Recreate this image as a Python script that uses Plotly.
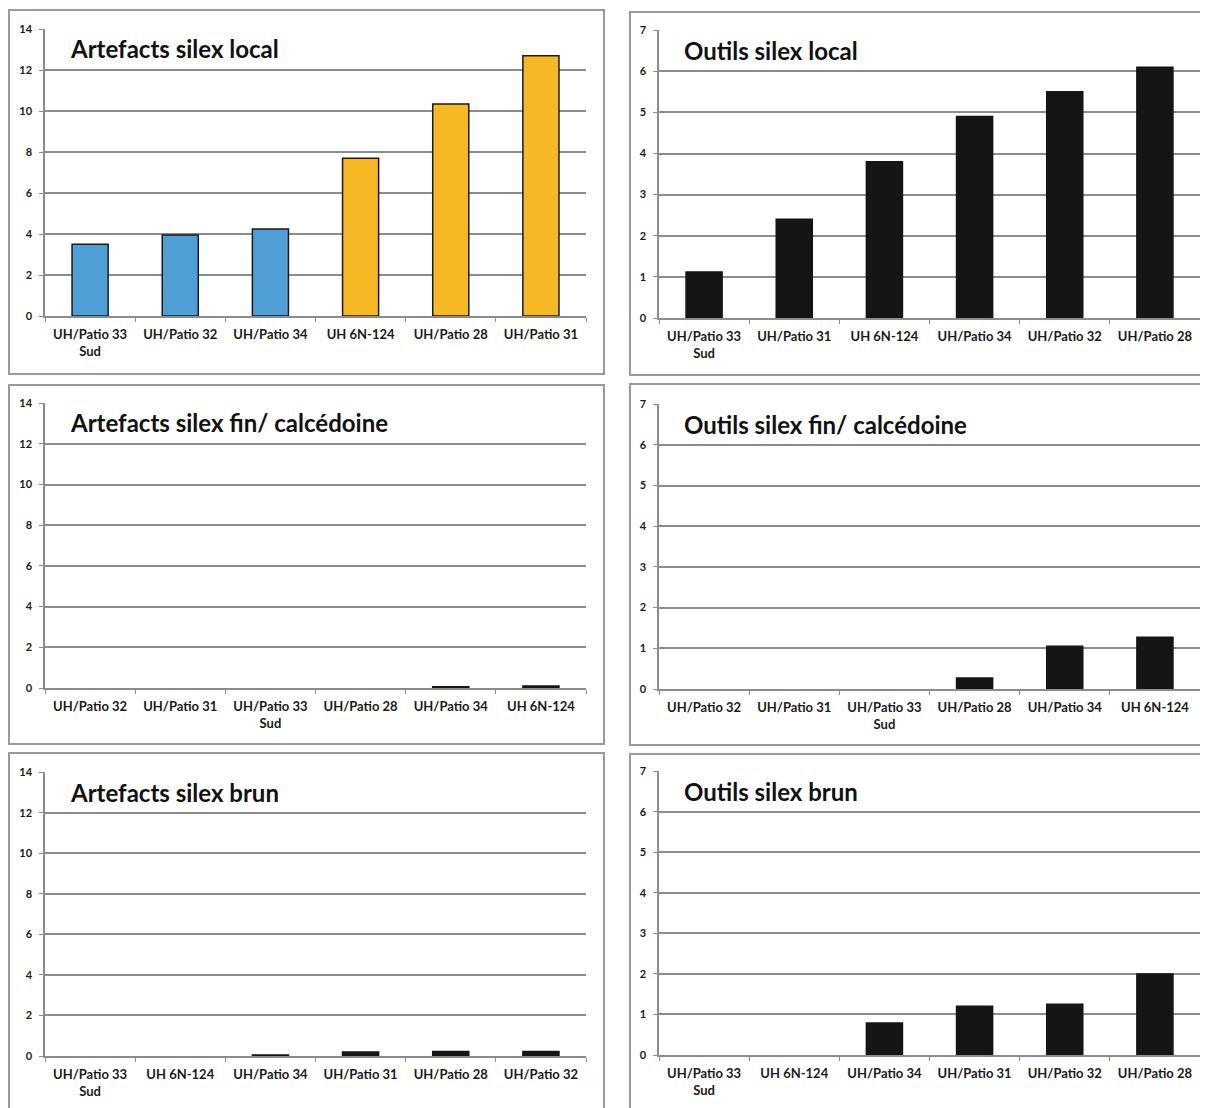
import plotly.graph_objects as go

# ---------------- data ----------------
titles = [
    "Artefacts silex local",
    "Outils silex local",
    "Artefacts silex fin/ calcédoine",
    "Outils silex fin/ calcédoine",
    "Artefacts silex brun",
    "Outils silex brun",
]

cats_art_local = ["UH/Patio 33<br>Sud", "UH/Patio 32", "UH/Patio 34", "UH 6N-124", "UH/Patio 28", "UH/Patio 31"]
vals_art_local = [3.5, 3.95, 4.25, 7.7, 10.35, 12.7]

cats_out_local = ["UH/Patio 33<br>Sud", "UH/Patio 31", "UH 6N-124", "UH/Patio 34", "UH/Patio 32", "UH/Patio 28"]
vals_out_local = [1.12, 2.4, 3.8, 4.9, 5.5, 6.1]

cats_art_fin = ["UH/Patio 32", "UH/Patio 31", "UH/Patio 33<br>Sud", "UH/Patio 28", "UH/Patio 34", "UH 6N-124"]
vals_art_fin = [0, 0, 0, 0, 0.06, 0.1]

cats_out_fin = ["UH/Patio 32", "UH/Patio 31", "UH/Patio 33<br>Sud", "UH/Patio 28", "UH/Patio 34", "UH 6N-124"]
vals_out_fin = [0, 0, 0, 0.27, 1.05, 1.27]

cats_art_brun = ["UH/Patio 33<br>Sud", "UH 6N-124", "UH/Patio 34", "UH/Patio 31", "UH/Patio 28", "UH/Patio 32"]
vals_art_brun = [0, 0, 0.05, 0.2, 0.22, 0.22]

cats_out_brun = ["UH/Patio 33<br>Sud", "UH 6N-124", "UH/Patio 34", "UH/Patio 31", "UH/Patio 32", "UH/Patio 28"]
vals_out_brun = [0, 0, 0.79, 1.2, 1.25, 2.0]

y_max_art = 14
y_max_out = 7

# ---------------- styling ----------------
OFF = 8            # page body margin of the html page
W, H = 1200, 1100  # figure size so that figure + body margin fills the window
BLUE = "#4f9fd6"
ORANGE = "#f7b826"
BLACK = "#151515"
GRID = "#8c8c8c"
BORDER = "#9a9a9a"
FONT = "Lato"

art_local_colors = [BLUE, BLUE, BLUE, ORANGE, ORANGE, ORANGE]

panels = [
    (cats_art_local, vals_art_local, art_local_colors, "#1a1a1a", y_max_art, 2),
    (cats_out_local, vals_out_local, BLACK, BLACK, y_max_out, 1),
    (cats_art_fin, vals_art_fin, BLACK, BLACK, y_max_art, 2),
    (cats_out_fin, vals_out_fin, BLACK, BLACK, y_max_out, 1),
    (cats_art_brun, vals_art_brun, BLACK, BLACK, y_max_art, 2),
    (cats_out_brun, vals_out_brun, BLACK, BLACK, y_max_out, 1),
]

# window-pixel geometry of plot areas (left, right, top, bottom)
plot_px = [
    (45, 586, 29, 316),
    (659, 1200, 30, 318),
    (45, 586, 403, 688),
    (659, 1200, 404, 689),
    (45, 586, 772, 1056),
    (659, 1200, 771, 1055),
]
# window-pixel geometry of panel frames
frame_px = [
    (9, 604, 10, 374),
    (630, 1230, 12, 375),
    (9, 604, 385, 744),
    (630, 1230, 384, 745),
    (9, 604, 753, 1130),
    (630, 1230, 754, 1130),
]


def px_x(v):
    return (v - OFF) / W


def px_y(v):
    return 1 - (v - OFF) / H


fig = go.Figure()
shapes = []
annotations = []

for i, (cats, vals, color, line_color, ymax, dtick) in enumerate(panels):
    n = i + 1
    xa = "x" if n == 1 else f"x{n}"
    ya = "y" if n == 1 else f"y{n}"
    line_widths = [0 if v == 0 else 1.5 for v in vals]
    fig.add_trace(go.Bar(
        x=cats, y=vals, xaxis=xa, yaxis=ya,
        marker=dict(color=color, line=dict(color=line_color, width=line_widths)),
        width=0.4, showlegend=False, hoverinfo="x+y",
    ))
    l, r, t, b = plot_px[i]
    xkey = "xaxis" if n == 1 else f"xaxis{n}"
    ykey = "yaxis" if n == 1 else f"yaxis{n}"
    fig.update_layout({
        xkey: dict(
            domain=[px_x(l), px_x(r)], anchor=ya, type="category",
            showline=True, linecolor=GRID, linewidth=1.5,
            ticks="outside", tickson="boundaries", ticklen=4, tickcolor=GRID,
            tickfont=dict(family=FONT, size=13, color="#1a1a1a", weight="bold"),
            ticklabelstandoff=6,
            showgrid=False, fixedrange=True, tickangle=0, automargin=False,
        ),
        ykey: dict(
            domain=[px_y(b), px_y(t)], anchor=xa, range=[0, ymax * 1.0005], dtick=dtick,
            showline=True, linecolor=GRID, linewidth=1.5,
            ticks="outside", ticklen=4, tickcolor=GRID,
            showgrid=True, gridcolor=GRID, gridwidth=1.5,
            zeroline=False, ticklabelstandoff=5,
            tickfont=dict(family=FONT, size=11, color="#1a1a1a", weight="bold"),
            fixedrange=True, automargin=False,
        ),
    })
    fl, fr, ft, fb = frame_px[i]
    shapes.append(dict(
        type="rect", xref="paper", yref="paper",
        x0=px_x(fl), x1=px_x(fr), y0=px_y(fb), y1=px_y(ft),
        line=dict(color=BORDER, width=2), fillcolor="rgba(0,0,0,0)", layer="below",
    ))
    annotations.append(dict(
        text=f"<b>{titles[i]}</b>", xref="paper", yref="paper",
        x=px_x(l + 23), y=px_y(t + 20), xanchor="left", yanchor="middle",
        showarrow=False, font=dict(family=FONT, size=24, color="#111111"),
    ))

fig.update_layout(
    width=W, height=H,
    margin=dict(l=0, r=0, t=0, b=0, autoexpand=False),
    paper_bgcolor="white", plot_bgcolor="white",
    shapes=shapes, annotations=annotations,
)

fig.write_html("out.html")
